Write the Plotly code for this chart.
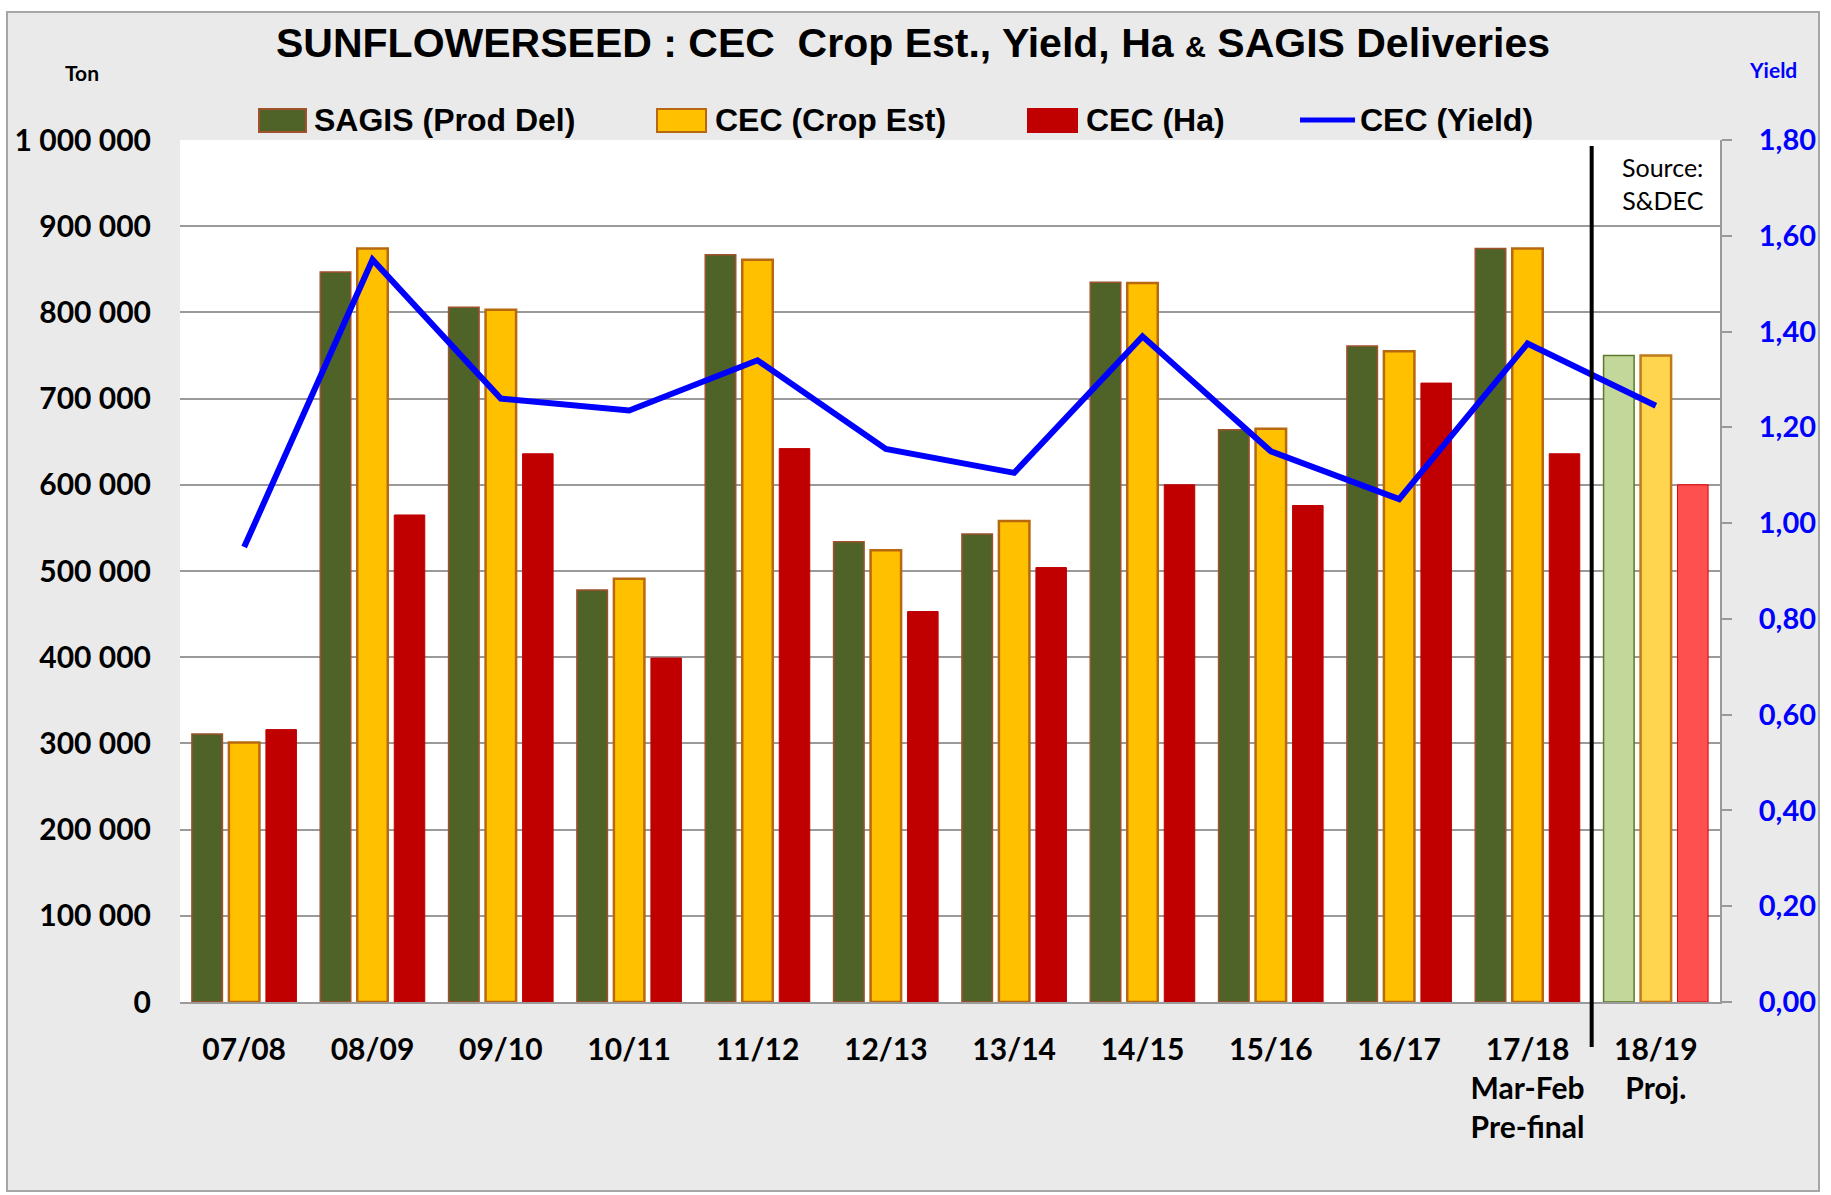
import plotly.graph_objects as go

# ---------------- data ----------------
seasons = ["07/08", "08/09", "09/10", "10/11", "11/12", "12/13", "13/14",
           "14/15", "15/16", "16/17", "17/18", "18/19"]
tick_labels = ["07/08", "08/09", "09/10", "10/11", "11/12", "12/13", "13/14",
               "14/15", "15/16", "16/17", "17/18<br>Mar-Feb<br>Pre-final", "18/19<br>Proj."]
sagis_prod_del = [311000, 847000, 806000, 478000, 867000, 534000, 543000,
                  835000, 664000, 761000, 874000, 750000]
cec_crop_est = [301000, 874000, 803000, 491000, 861000, 524000, 558000,
                834000, 665000, 755000, 874000, 750000]
cec_ha = [316000, 565000, 636000, 399000, 642000, 453000, 504000,
          600000, 576000, 718000, 636000, 600000]
cec_yield = [0.95, 1.55, 1.26, 1.235, 1.34, 1.155, 1.105,
             1.39, 1.15, 1.05, 1.375, 1.245]

W, H = 1831, 1195
L, R, T, B = 180, 1720, 140, 1002
def px(x):
    return (x - L) / (R - L)
def py(y):
    return (B - y) / (B - T)

FONT = "Lato, Open Sans, sans-serif"
NARROW = "Liberation Sans Narrow, Arial Narrow, Liberation Sans, sans-serif"
n = len(seasons)

sagis_col = ["#4F6228"] * (n - 1) + ["#C4D79B"]
sagis_line = ["#A0522D"] * (n - 1) + ["#5A7A2A"]
crop_col = ["#FFC000"] * (n - 1) + ["#FFD550"]
crop_line = ["#B8690F"] * (n - 1) + ["#C07A1A"]
ha_col = ["#C00000"] * (n - 1) + ["#FF5050"]
ha_line = ["#C00000"] * (n - 1) + ["#E00000"]

fig = go.Figure()
fig.add_trace(go.Bar(x=seasons, y=sagis_prod_del, name="SAGIS (Prod Del)",
                     marker=dict(color=sagis_col, line=dict(color=sagis_line, width=1.5))))
fig.add_trace(go.Bar(x=seasons, y=cec_crop_est, name="CEC (Crop Est)",
                     marker=dict(color=crop_col, line=dict(color=crop_line, width=2.5))))
fig.add_trace(go.Bar(x=seasons, y=cec_ha, name="CEC (Ha)",
                     marker=dict(color=ha_col, line=dict(color=ha_line, width=1))))
fig.add_trace(go.Scatter(x=seasons, y=cec_yield, name="CEC (Yield)", yaxis="y2",
                         mode="lines", line=dict(color="#0000FF", width=6)))

shapes = []
annotations = []

# outer chart border / white strip
for (x0, y0, x1, y1) in [(0, 0, W, 12), (0, 0, 7, H), (1819, 0, W, H), (0, 1191, W, H)]:
    shapes.append(dict(type="rect", xref="paper", yref="paper", layer="above",
                       x0=px(x0), x1=px(x1), y0=py(y0), y1=py(y1),
                       fillcolor="white", line=dict(width=0)))
shapes.append(dict(type="rect", xref="paper", yref="paper", layer="above",
                   x0=px(7), x1=px(1819), y0=py(12), y1=py(1191),
                   line=dict(color="#A6A6A6", width=2)))

# divider between actual and projection
shapes.append(dict(type="line", xref="x", yref="paper", x0=10.5, x1=10.5,
                   y0=py(146), y1=py(1047), line=dict(color="black", width=4), layer="above"))

# manual legend
leg_y = 120
leg_items = [
    ("rect", 259, 306, "#4F6228", "#A0522D", "SAGIS (Prod Del)", 312),
    ("rect", 657, 706, "#FFC000", "#B8690F", "CEC (Crop Est)", 713),
    ("rect", 1028, 1077, "#C00000", "#C00000", "CEC (Ha)", 1084),
    ("line", 1300, 1355, "#0000FF", "#0000FF", "CEC (Yield)", 1358),
]
for kind, x0, x1, fc, lc, label, tx in leg_items:
    if kind == "rect":
        shapes.append(dict(type="rect", xref="paper", yref="paper",
                           x0=px(x0), x1=px(x1), y0=py(132), y1=py(109),
                           fillcolor=fc, line=dict(color=lc, width=2)))
    else:
        shapes.append(dict(type="line", xref="paper", yref="paper",
                           x0=px(x0), x1=px(x1), y0=py(leg_y), y1=py(leg_y),
                           line=dict(color=fc, width=5)))
    annotations.append(dict(xref="paper", yref="paper", x=px(tx), y=py(leg_y),
                            xanchor="left", yanchor="middle", showarrow=False,
                            text="<b>" + label + "</b>",
                            font=dict(family=NARROW, size=32, color="black")))

annotations.append(dict(xref="paper", yref="paper", x=px(82), y=py(72),
                        xanchor="center", yanchor="middle", showarrow=False,
                        text="<b>Ton</b>", font=dict(family=FONT, size=21, color="black")))
annotations.append(dict(xref="paper", yref="paper", x=px(1773), y=py(70),
                        xanchor="center", yanchor="middle", showarrow=False,
                        text="<b>Yield</b>", font=dict(family=FONT, size=21, color="#0000FF")))
annotations.append(dict(xref="paper", yref="paper", x=px(1706), y=py(150),
                        xanchor="right", yanchor="top", showarrow=False, align="right",
                        text="Source:<br>S&DEC", font=dict(family=FONT, size=25, color="black")))

title_text = ("<b>SUNFLOWERSEED\u00a0:\u00a0CEC\u00a0\u00a0Crop Est., Yield, Ha "
              "<span style='font-size:29px'>&</span> SAGIS Deliveries</b>")

fig.update_layout(
    width=W, height=H,
    margin=dict(l=L, r=W - R, t=T, b=H - B, pad=0),
    paper_bgcolor="#EAEAEA",
    plot_bgcolor="white",
    separators=", ",
    showlegend=False,
    barmode="group",
    bargap=0.135,
    bargroupgap=0.175,
    title=dict(text=title_text, x=913 / W, xanchor="center", y=1 - 43 / H, yanchor="middle",
               font=dict(family=NARROW, size=41, color="black")),
    xaxis=dict(type="category", tickmode="array", tickvals=seasons, ticktext=tick_labels,
               showline=True, linecolor="#9A9A9A", linewidth=2, ticks="",
               ticklabelstandoff=20, showgrid=False,
               tickfont=dict(family=FONT, size=30, color="black", weight="bold")),
    yaxis=dict(range=[0, 1000000], dtick=100000, tickformat=",d", showgrid=True,
               gridcolor="#9A9A9A", gridwidth=2, zeroline=False, showline=False,
               ticks="", ticklabelstandoff=28,
               tickfont=dict(family=FONT, size=30, color="black", weight="bold")),
    yaxis2=dict(range=[0, 1.8], dtick=0.2, tickformat=".2f", overlaying="y", side="right",
                showgrid=False, zeroline=False, showline=True, linecolor="#9A9A9A", linewidth=2,
                ticks="outside", ticklen=10, tickcolor="#9A9A9A", tickwidth=2,
                ticklabelstandoff=21,
                tickfont=dict(family=FONT, size=29, color="#0000FF", weight="bold")),
    shapes=shapes,
    annotations=annotations,
)
fig.update_traces(selector=dict(type="bar"), hoverinfo="x+y")

fig.write_html("out.html", config={"displayModeBar": False},
               post_script="document.body.style.margin='0';document.body.style.overflow='hidden';")
